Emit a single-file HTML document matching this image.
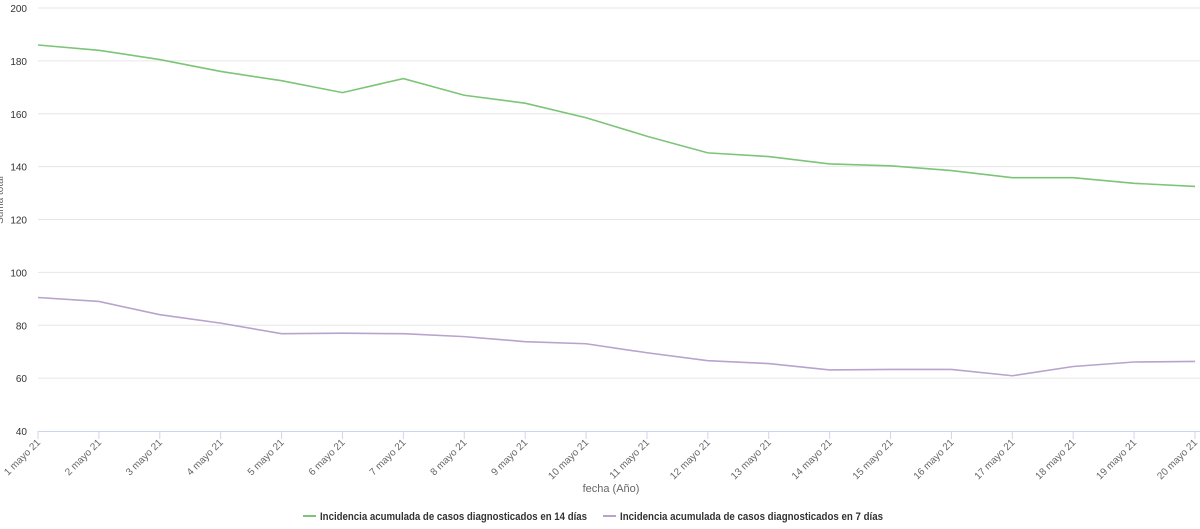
<!DOCTYPE html>
<html><head><meta charset="utf-8"><style>
body{margin:0;background:#fff;}
svg{display:block;font-family:"Liberation Sans",sans-serif;}
</style></head><body>
<svg id="c" width="1200" height="529"></svg>
<script>
const categories=["1 mayo 21","2 mayo 21","3 mayo 21","4 mayo 21","5 mayo 21","6 mayo 21","7 mayo 21","8 mayo 21","9 mayo 21","10 mayo 21","11 mayo 21","12 mayo 21","13 mayo 21","14 mayo 21","15 mayo 21","16 mayo 21","17 mayo 21","18 mayo 21","19 mayo 21","20 mayo 21"];
const series14=[186,184,180.5,176,172.5,168,173.3,167,164,158.5,151.5,145.2,143.8,141,140.3,138.5,135.8,135.8,133.7,132.5];
const series7=[90.5,89,84,80.8,76.8,77,76.8,75.7,73.8,73,69.6,66.6,65.5,63.1,63.3,63.3,60.9,64.4,66.1,66.3];
const yTicks=[40,60,80,100,120,140,160,180,200];
const NS="http://www.w3.org/2000/svg";
const svg=document.getElementById('c');
const X0=38,X1=1195,Y0=431,Y1=8;
const x=i=>X0+i*(X1-X0)/(categories.length-1);
const y=v=>Y0-(v-40)*(Y0-Y1)/160;
function mk(t,a,p){const e=document.createElementNS(NS,t);for(const k in a)e.setAttribute(k,a[k]);(p||svg).appendChild(e);return e;}
yTicks.forEach(v=>{
  if(v>40){const g=mk('line',{x1:X0,x2:1200,y1:y(v),y2:y(v),stroke:'#e6e6e6','stroke-width':1});
  
  }
  const t=mk('text',{x:27,y:y(v)+4,'text-anchor':'end','font-size':10,fill:'#333'});t.textContent=v;
  
  
});
const ax=mk('line',{x1:X0,x2:1200,y1:Y0+0.5,y2:Y0+0.5,stroke:'#ccd6eb'});


categories.forEach((c,i)=>{
  const tk=mk('line',{x1:x(i),x2:x(i),y1:Y0,y2:Y0+8,stroke:'#ccd6eb'});
  
  
  const t=mk('text',{x:x(i)+3,y:Y0+12,'text-anchor':'end','font-size':10,fill:'#666',transform:`rotate(-45 ${x(i)+3} ${Y0+12})`});t.textContent=c;
  
  
});
const yt=mk('text',{x:3,y:200,'text-anchor':'middle','font-size':10,fill:'#666',transform:'rotate(-90 3 200)'});yt.textContent='Suma total';


const xt=mk('text',{x:611,y:492,'text-anchor':'middle','font-size':11,fill:'#666'});xt.textContent='fecha (Año)';


function line(d,col,name){const p=mk('path',{d:d.map((v,i)=>(i?'L':'M')+x(i)+' '+y(v)).join(''),fill:'none',stroke:col,'stroke-width':1.6});

}
line(series14,'#7cc576','line-14-dias');
line(series7,'#b8a3cc','line-7-dias');
function leg(x0,col,txt,w,name){const g=mk('g',{});


mk('line',{x1:x0,x2:x0+13,y1:516,y2:516,stroke:col,'stroke-width':2},g);
const t=mk('text',{x:x0+17,y:520,'font-size':11,'font-weight':'bold',fill:'#333',textLength:w,lengthAdjust:'spacingAndGlyphs'},g);t.textContent=txt;}
leg(303,'#7cc576','Incidencia acumulada de casos diagnosticados en 14 días',267,'legend-entry-14-dias');
leg(603,'#b8a3cc','Incidencia acumulada de casos diagnosticados en 7 días',263,'legend-entry-7-dias');
</script>
</body></html>
